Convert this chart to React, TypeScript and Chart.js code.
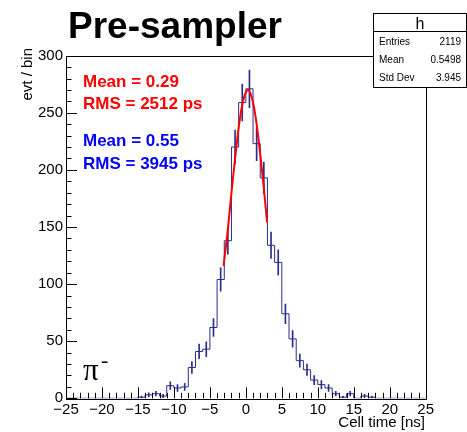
import React, { useEffect, useRef } from 'react';
import { Chart, registerables } from 'chart.js';

Chart.register(...registerables);

// ---- data -------------------------------------------------------------
const X_MIN = -25;
const X_MAX = 25;
const BIN_WIDTH = 1;
const Y_MIN = 0;
const Y_MAX = 300;

// events per 1 ns bin, from [-25,-24) up to [24,25)
const counts = [
  0, 0, 0, 0, 0, 0, 0, 0, 0, 0,
  1, 3, 4, 2, 11, 9, 10, 27, 41, 43,
  62, 104, 138, 220, 259, 271, 223, 193, 134, 119,
  74, 52, 33, 25, 16, 12, 9, 4, 1, 4,
  0, 2, 1, 0, 0, 0, 0, 0, 0, 0,
];

// Gaussian fit curve (red)
const fitX = [-3.1, -2.5, -2, -1.5, -1, -0.5, 0, 0.3, 0.5, 1, 1.5, 2, 2.5, 2.95];
const fitY = [116, 148, 180, 210, 237, 257, 268, 270, 269, 259, 240, 214, 184, 154];

const X_MAJOR_STEP = 5;
const X_MINOR_STEP = 1;
const Y_MAJOR_STEP = 50;
const Y_MINOR_STEP = 10;

const TITLE = 'Pre-sampler';
const X_TITLE = 'Cell time [ns]';
const Y_TITLE = 'evt / bin';
const FIT_LABELS = ['Mean = 0.29', 'RMS = 2512 ps'];
const HIST_LABELS = ['Mean = 0.55', 'RMS = 3945 ps'];
const STATS_NAME = 'h';
const STATS_KEYS = ['Entries', 'Mean', 'Std Dev'];
const STATS_VALUES = ['2119', '0.5498', '3.945'];
const PARTICLE = 'π';
const PARTICLE_SUP = '-';

// ---- styles -----------------------------------------------------------
const W = 467;
const H = 432;
const HIST_COLOR = '#2c2c8c';
const FIT_COLOR = '#ff0000';
const SANS = '"Liberation Sans", Arial, Helvetica, sans-serif';
const SERIF = '"Liberation Serif", "Times New Roman", serif';

const rootPlugin = {
  id: 'rootDecor',
  afterDatasetsDraw(chart: any) {
    const ctx = chart.ctx;
    const { left, right, top, bottom } = chart.chartArea;
    const xs = chart.scales.x;
    const ys = chart.scales.y;
    ctx.save();
    ctx.strokeStyle = '#000';
    ctx.lineWidth = 1;
    // frame
    ctx.strokeRect(Math.round(left) + 0.5, Math.round(top) + 0.5, Math.round(right - left), Math.round(bottom - top));
    // x ticks
    ctx.beginPath();
    for (let v = X_MIN; v <= X_MAX + 1e-9; v += X_MINOR_STEP) {
      const px = Math.round(xs.getPixelForValue(v)) + 0.5;
      const len = Math.abs(v % X_MAJOR_STEP) < 1e-9 ? 11 : 5.5;
      ctx.moveTo(px, bottom);
      ctx.lineTo(px, bottom - len);
    }
    // y ticks
    for (let v = Y_MIN; v <= Y_MAX + 1e-9; v += Y_MINOR_STEP) {
      const py = Math.round(ys.getPixelForValue(v)) + 0.5;
      const len = Math.abs(v % Y_MAJOR_STEP) < 1e-9 ? 11 : 5.5;
      ctx.moveTo(left, py);
      ctx.lineTo(left + len, py);
    }
    ctx.stroke();
    ctx.restore();
  },
  afterDraw(chart: any) {
    const ctx = chart.ctx;
    ctx.save();
    // title
    ctx.fillStyle = '#000';
    ctx.font = `bold 37px ${SANS}`;
    ctx.textAlign = 'left';
    ctx.textBaseline = 'alphabetic';
    ctx.fillText(TITLE, 68, 38);

    // fit / hist labels
    ctx.font = `bold 17px ${SANS}`;
    ctx.textBaseline = 'middle';
    ctx.fillStyle = '#ff0000';
    ctx.fillText(FIT_LABELS[0], 83, 82);
    ctx.fillText(FIT_LABELS[1], 83, 104);
    ctx.fillStyle = '#0000ff';
    ctx.fillText(HIST_LABELS[0], 83, 141);
    ctx.fillText(HIST_LABELS[1], 83, 164);

    // particle label
    ctx.fillStyle = '#000';
    ctx.textBaseline = 'alphabetic';
    ctx.font = `31px ${SERIF}`;
    ctx.fillText(PARTICLE, 83, 380);
    ctx.font = `22px ${SERIF}`;
    ctx.fillText(PARTICLE_SUP, 101, 367);

    // axis titles
    ctx.font = `15px ${SANS}`;
    ctx.textAlign = 'right';
    ctx.textBaseline = 'middle';
    ctx.fillText(X_TITLE, 425, 423);
    ctx.save();
    ctx.translate(31.5, 48);
    ctx.rotate(-Math.PI / 2);
    ctx.textAlign = 'right';
    ctx.textBaseline = 'alphabetic';
    ctx.fillText(Y_TITLE, 0, 0);
    ctx.restore();

    // stats box
    const bx = 373.5, by = 13.5, bw = 93, bh = 74;
    ctx.fillStyle = '#fff';
    ctx.fillRect(bx, by, bw, bh);
    ctx.strokeStyle = '#000';
    ctx.lineWidth = 1;
    ctx.strokeRect(bx, by, bw, bh);
    ctx.beginPath();
    ctx.moveTo(bx, 31.5);
    ctx.lineTo(bx + bw, 31.5);
    ctx.stroke();
    ctx.fillStyle = '#000';
    ctx.font = `16px ${SANS}`;
    ctx.textAlign = 'center';
    ctx.textBaseline = 'alphabetic';
    ctx.fillText(STATS_NAME, bx + bw / 2, 29);
    ctx.font = `10px ${SANS}`;
    ctx.textBaseline = 'middle';
    const rowsY = [42.5, 60.5, 78.5];
    STATS_KEYS.forEach((k, i) => {
      ctx.textAlign = 'left';
      ctx.fillText(k, 379, rowsY[i]);
      ctx.textAlign = 'right';
      ctx.fillText(STATS_VALUES[i], 461, rowsY[i]);
    });
    ctx.restore();
  },
};

export default function App() {
  const ref = useRef<HTMLCanvasElement | null>(null);
  useEffect(() => {
    if (!ref.current) return;
    const histPoints = counts.map((c, i) => ({ x: X_MIN + i * BIN_WIDTH, y: c }));
    histPoints.push({ x: X_MAX, y: 0 });
    const errPoints = counts
      .map((c, i) => ({ c, x: X_MIN + (i + 0.5) * BIN_WIDTH }))
      .filter((p) => p.c > 0)
      .map((p) => ({ x: p.x, y: [p.c - Math.sqrt(p.c), p.c + Math.sqrt(p.c)] }));
    const fitPoints = fitX.map((x, i) => ({ x, y: fitY[i] }));

    const chart = new Chart(ref.current, {
      type: 'line',
      data: {
        datasets: [
          {
            type: 'line',
            data: fitPoints,
            borderColor: FIT_COLOR,
            borderWidth: 2,
            pointRadius: 0,
            tension: 0.4,
            cubicInterpolationMode: 'monotone',
            order: 0,
          } as any,
          {
            type: 'line',
            data: histPoints,
            borderColor: HIST_COLOR,
            borderWidth: 1,
            pointRadius: 0,
            stepped: 'before',
            order: 1,
          } as any,
          {
            type: 'bar',
            data: errPoints,
            backgroundColor: HIST_COLOR,
            borderWidth: 0,
            barThickness: 1,
            grouped: false,
            order: 2,
          } as any,
        ],
      },
      options: {
        animation: false,
        responsive: false,
        events: [],
        layout: { padding: { top: 55.7, right: 41.3, left: 0, bottom: 0 } },
        plugins: { legend: { display: false }, tooltip: { enabled: false }, title: { display: false } },
        scales: {
          x: {
            type: 'linear',
            min: X_MIN,
            max: X_MAX,
            offset: false,
            grid: { display: false, offset: false, drawTicks: false, tickLength: 0 },
            border: { display: false },
            ticks: {
              stepSize: X_MAJOR_STEP,
              autoSkip: false,
              maxRotation: 0,
              padding: 3,
              color: '#000',
              font: { family: SANS, size: 15 },
              callback: (v: any) => String(v).replace('-', '\u2212'),
            },
            afterFit: (s: any) => { s.height = 33.7; },
          },
          y: {
            type: 'linear',
            min: Y_MIN,
            max: Y_MAX,
            grid: { display: false, drawTicks: false, tickLength: 0 },
            border: { display: false },
            ticks: {
              stepSize: Y_MAJOR_STEP,
              padding: 3,
              color: '#000',
              font: { family: SANS, size: 15 },
            },
            afterFit: (s: any) => { s.width = 66; },
          },
        },
      } as any,
      plugins: [rootPlugin],
    });
    return () => chart.destroy();
  }, []);
  return (
    <div style={{ position: 'absolute', left: 0, top: 0, width: W, height: H, background: '#fff' }}>
      <canvas ref={ref} width={W} height={H} style={{ display: 'block' }} />
    </div>
  );
}
